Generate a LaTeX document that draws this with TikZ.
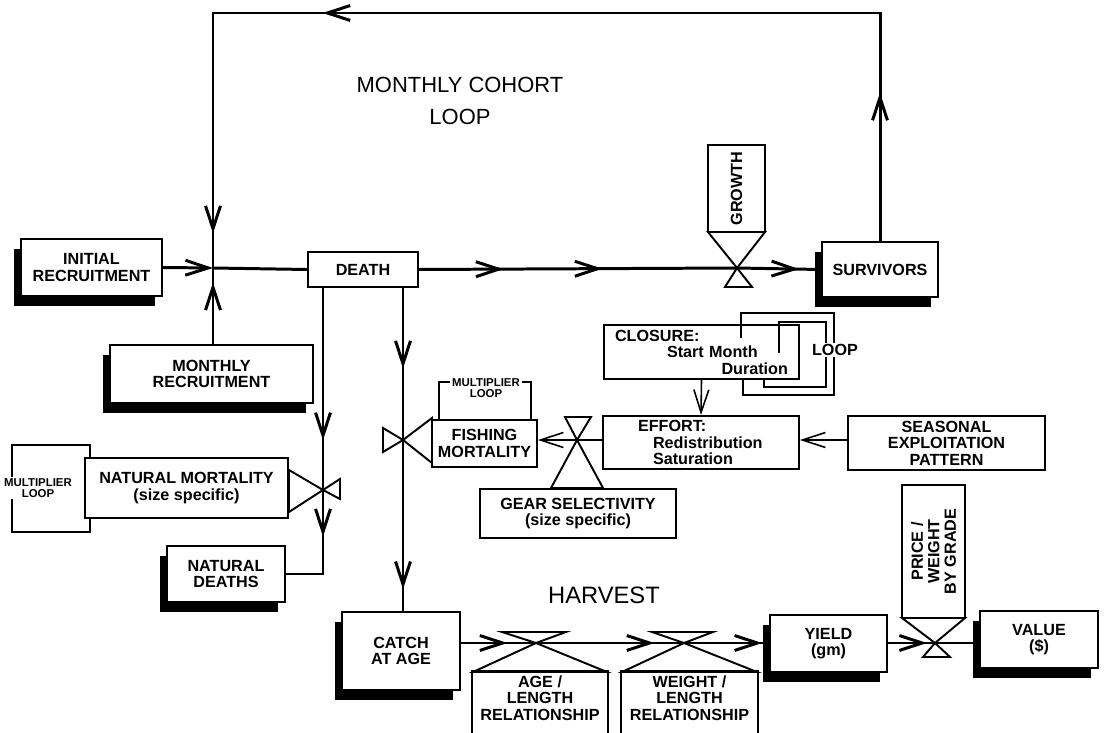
\documentclass[tikz,border=0pt]{standalone}
\usepackage{fontspec}
\setmainfont{Liberation Sans}
\usetikzlibrary{arrows.meta,shadows,decorations.markings,calc}
\tikzset{bx/.style={draw,fill=white,line width=1.1pt,inner sep=0pt,align=center,font=\bfseries\fontsize{9.2}{9.4}\selectfont}}
\tikzset{sbx/.style={bx,drop shadow={shadow xshift=-0.14cm,shadow yshift=-0.2cm,opacity=1,fill=black}}}
\tikzset{wh/.style 2 args={minimum width=#1*0.02cm,minimum height=#2*0.02cm}}
\tikzset{flow/.style={line width=1.7pt}}
\tikzset{vlv/.style={line width=1.1pt}}
\tikzset{lp/.style={line width=0.9pt}}
\tikzset{smalltxt/.style={fill=white,inner sep=1pt,align=center,font=\bfseries\fontsize{6.5}{6.5}\selectfont}}
\tikzset{arr at/.style={postaction={decorate,decoration={markings,mark=at position #1 with {\arrow{>}}}}}}
\tikzset{ttl/.style={align=center,font=\fontsize{12.5}{18}\selectfont}}

\begin{document}
\begin{tikzpicture}[x=0.02cm,y=-0.02cm,>={Straight Barb[length=13pt,width=8.5pt]}]
\useasboundingbox (0,0) rectangle (1106,733);
\coordinate (j) at (213,268);
\coordinate (tl) at (213,13);
\coordinate (gv) at (737,268);
\coordinate (nv) at (323,490);
\coordinate (fv) at (403,440);
\coordinate (sv) at (577,440);
\coordinate (av) at (536,643);
\coordinate (wv) at (684,643);
\coordinate (pv) at (935,643);

\draw[lp] (12,445) rectangle (90,532);
\node[smalltxt] (multnat) at (38,488) {MULTIPLIER\\LOOP};
\draw[lp] (439,420) -- (439,382) -- (531,382) -- (531,420);
\node[smalltxt] (multfish) at (486,388) {MULTIPLIER\\LOOP};

\node[ttl] (cohort) at (460,101) {MONTHLY COHORT\\LOOP};
\node[ttl,font=\fontsize{13.5}{16}\selectfont] (harvest) at (604,595) {HARVEST};

\node[sbx,wh={141}{57}] (initrec) at (91.5,267.5) {INITIAL\\RECRUITMENT};
\node[sbx,wh={203}{58}] (monrec) at (211.5,374) {MONTHLY\\RECRUITMENT};
\node[bx,wh={110}{35}] (death) at (363,269.5) {DEATH};
\node[sbx,wh={116}{55}] (surv) at (880,269.5) {SURVIVORS};
\node[bx,rotate=90,wh={87}{57}] (growth) at (736.5,188.5) {GROWTH};
\node[bx,wh={195}{54},text width=3.46cm,inner xsep=0.22cm,align=left] (closure) at (701.5,352)
  {CLOSURE:\\\hspace*{1.04cm}Start Month\\\hspace*{\fill}Duration};
\node[bx,wh={196}{53},text width=2.52cm,inner xsep=0.7cm,align=left] (effort) at (701,442.5)
  {EFFORT:\\\hspace*{0.3cm}Redistribution\\\hspace*{0.3cm}Saturation};
\node[bx,wh={197}{54}] (seasonal) at (946.5,443) {SEASONAL\\EXPLOITATION\\PATTERN};
\node[bx,wh={105}{47}] (fishmort) at (484.5,443.5) {FISHING\\MORTALITY};
\node[bx,wh={196}{49}] (gear) at (578,513.5) {GEAR SELECTIVITY\\(size specific)};
\node[bx,wh={203}{60}] (natmort) at (186.5,488) {NATURAL MORTALITY\\(size specific)};
\node[sbx,wh={118}{56}] (natdeaths) at (226,574) {NATURAL\\DEATHS};
\node[sbx,wh={118}{78}] (catch) at (401,651) {CATCH\\AT AGE};
\node[bx,draw=none,wh={134}{52}] (agelen) at (540,698) {AGE /\\LENGTH\\RELATIONSHIP};
\draw[line width=1.1pt] ($(agelen.south west)+(0,20)$) -- (agelen.north west) -- (agelen.north east) -- ($(agelen.south east)+(0,20)$);
\node[bx,draw=none,wh={135}{52}] (wtlen) at (689.5,698) {WEIGHT /\\LENGTH\\RELATIONSHIP};
\draw[line width=1.1pt] ($(wtlen.south west)+(0,20)$) -- (wtlen.north west) -- (wtlen.north east) -- ($(wtlen.south east)+(0,20)$);
\node[sbx,wh={117}{57}] (yield) at (828.5,643.5) {YIELD\\(gm)};
\node[bx,rotate=90,wh={133}{63}] (price) at (933.5,551.5) {PRICE /\\WEIGHT\\BY GRADE};
\node[sbx,wh={118}{57}] (value) at (1039,639.5) {VALUE\\(\$)};

\draw[lp] (741,338) -- (741,313) -- (834,313) -- (834,395) -- (743,395) -- (743,379);
\draw[lp] (779,353) -- (779,322) -- (826,322) -- (826,387) -- (764,387) -- (764,379);
\node[bx,draw=none,inner sep=1pt] (looplbl) at (835,350) {LOOP};

\draw[vlv] (gv) -- ++(-29,-36) -- ++(57,0) -- cycle;
\draw[vlv] (gv) -- ++(-12,19) -- ++(27,0) -- cycle;
\draw[vlv] (nv) -- ++(-34,-20) -- ++(0,42) -- cycle;
\draw[vlv] (nv) -- ++(17,-11) -- ++(0,20) -- cycle;
\draw[vlv] (fv) -- ++(-20,-12) -- ++(0,24) -- cycle;
\draw[vlv] (fv) -- ++(29,-22) -- ++(0,45) -- cycle;
\draw[vlv] (sv) -- ++(-12,-23) -- ++(26,0) -- cycle;
\draw[vlv] (sv) -- ++(-26,48) -- ++(52,0) -- cycle;
\draw[vlv] (av) -- ++(-34,-11) -- ++(64,0) -- cycle;
\draw[vlv] (av) -- ++(-63,29) -- ++(134,0) -- cycle;
\draw[vlv] (wv) -- ++(-32,-11) -- ++(61,0) -- cycle;
\draw[vlv] (wv) -- ++(-62,29) -- ++(135,0) -- cycle;
\draw[vlv] (pv) -- ++(-33,-25) -- ++(63,0) -- cycle;
\draw[vlv] (pv) -- ++(-12,14) -- ++(27,0) -- cycle;

\draw[flow,->] (initrec.east) -- (j);
\draw[flow,arr at=0.81] (j |- monrec.north) -- (j);
\draw[flow] (j) -- (death.west);
\draw[flow,arr at=0.266,arr at=0.577] (death.east) -- (gv);
\draw[flow,arr at=0.74] (gv) -- (surv.west);
\draw[flow,arr at=0.129,arr at=0.683,arr at=0.97] (surv.north) -- (surv.north |- tl) -- (tl) -- (j);
\draw[flow,arr at=0.754] (death.south -| nv) -- (nv);
\draw[flow,arr at=0.385] (nv) -- (nv |- natdeaths) -- (natdeaths.east);
\draw[flow,arr at=0.53] (death.south -| fv) -- (fv);
\draw[flow,arr at=0.872] (fv) -- (catch.north -| fv);
\draw[lp,->] (effort.west |- sv) -- (fishmort.east |- sv);
\draw[lp,->] (closure.south) -- (effort.north);
\draw[lp,->] (seasonal.west |- sv) -- (effort.east |- sv);
\draw[flow,arr at=0.62] (catch.east |- av) -- (av);
\draw[flow,arr at=0.8] (av) -- (wv);
\draw[flow,arr at=0.92] (wv) -- (yield.west |- wv);
\draw[flow,arr at=0.83] (yield.east |- pv) -- (pv);
\draw[flow] (pv) -- (value.west |- pv);
\end{tikzpicture}
\end{document}
